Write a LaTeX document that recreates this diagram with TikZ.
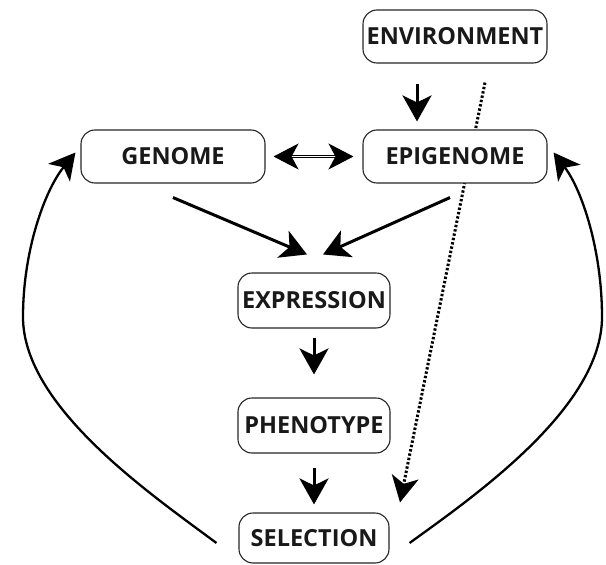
\documentclass[tikz,border=0pt]{standalone}
\usepackage{fontspec}
\setmainfont{Open Sans}
\usepackage{tikz}
\usetikzlibrary{positioning,arrows.meta,calc,backgrounds}
\tikzset{
  stage/.style={draw=black!85,line width=1.1pt,rounded corners=14pt,fill=white,
    text=black!90,font=\fontsize{23.5}{28}\selectfont\bfseries,inner sep=0pt,
    minimum height=53pt},
  wide/.style={stage,minimum width=184pt},
  narrow/.style={stage,minimum width=152pt},
  flow/.style={-{Stealth[length=26pt,width=29pt,inset=7pt]},line width=3pt},
  both/.style={{Stealth[length=25pt,width=26pt,inset=7pt]}-{Stealth[length=25pt,width=26pt,inset=7pt]},
    line width=1.1pt,double,double distance=1.6pt},
  envlink/.style={-{Stealth[length=26pt,width=27pt,inset=7pt]},line width=3pt,
    dash pattern=on 2.4pt off 2pt},
  loopback/.style={-{Stealth[length=26pt,width=28pt,inset=7pt]},line width=2.3pt},
}

\begin{document}
\begin{tikzpicture}[x=1pt,y=-1pt]
  \useasboundingbox (0,0) rectangle (606,565);
  % boxes
  \node[wide] (env) at (455,36.5) {ENVIRONMENT};
  \node[wide] (gen) at (173,156.5) {GENOME};
  \node[wide] (epi) at (455,156.5) {EPIGENOME};
  \node[narrow,minimum height=55pt] (expr) at (314,300.5) {EXPRESSION};
  \node[narrow,minimum height=55pt] (phen) at (314,425.5) {PHENOTYPE};
  \node[stage,minimum width=150pt,minimum height=50pt] (sel) at (314,538) {SELECTION};
  \coordinate (lft) at (23,317);
  \coordinate (rgt) at (602,317);
  % environment acts on selection, behind the epigenome box
  \begin{scope}[on background layer]
    \draw[envlink] ([shift={(30,19)}]env.south) -- ([shift={(86,-10)}]sel.north);
  \end{scope}
  % main flow
  \draw[flow,shorten <=20pt,shorten >=8pt] ([xshift=-38pt]env.south) -- ([xshift=-38pt]epi.north);
  \draw[both,shorten <=8pt,shorten >=9pt] (gen.east) -- (epi.west);
  \draw[flow] ([shift={(0,14)}]gen.south) -- ([shift={(-7,-18)}]expr.north);
  \draw[flow] ([shift={(-5,14)}]epi.south) -- ([shift={(9,-18)}]expr.north);
  \draw[flow,shorten <=9pt,shorten >=23pt] (expr.south) -- (phen.north);
  \draw[flow,shorten <=14pt,shorten >=8pt] (phen.south) -- (sel.north);
  % selection feeds back
  \draw[loopback] ([shift={(-22,5)}]sel.west) .. controls (152,495) and (23,407) .. (lft)
    .. controls (23,250) and (45,190) .. ([shift={(-5,-4)}]gen.west);
  \draw[loopback] ([shift={(20,5)}]sel.east) .. controls (476,495) and (602,407) .. (rgt)
    .. controls (602,250) and (582,190) .. ([shift={(6,-4)}]epi.east);
\end{tikzpicture}
\end{document}
